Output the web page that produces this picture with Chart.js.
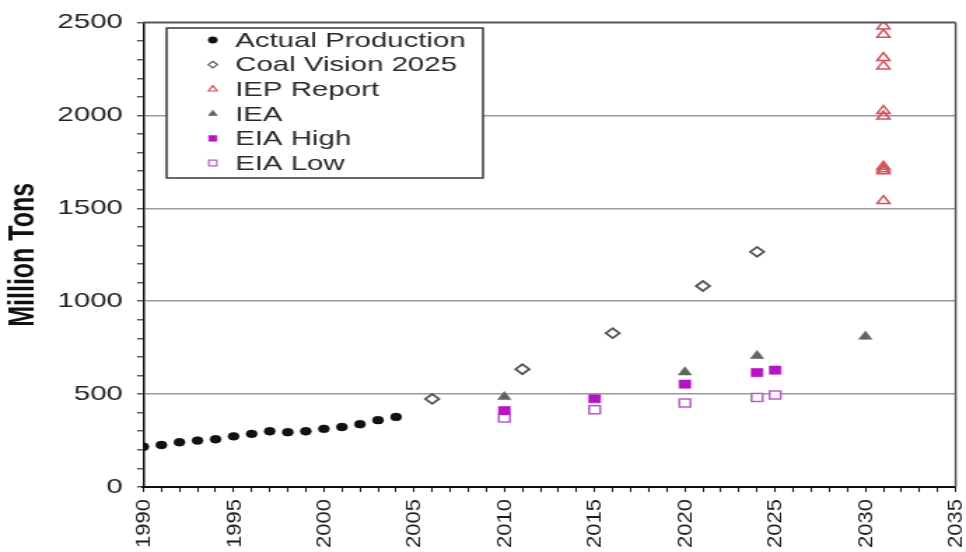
<!DOCTYPE html>
<html>
<head>
<meta charset="utf-8">
<title>Coal production and projections</title>
<style>
  html, body { margin: 0; padding: 0; background: #ffffff; }
  #wrap { width: 966px; height: 552px; overflow: hidden; }
</style>
<script src="https://cdn.jsdelivr.net/npm/chart.js@4.4.1/dist/chart.umd.min.js"></script>
</head>
<body>
<!-- the drawing surface is 690 px wide and displayed at 966 px: a wide, flattened look -->
<div id="wrap"><canvas id="c" width="690" height="552" style="display:block;width:966px;height:552px;"></canvas></div>
<script>
// ---- data (million tons) ----
const actualYears = [1990, 1991, 1992, 1993, 1994, 1995, 1996, 1997, 1998, 1999, 2000, 2001, 2002, 2003, 2004];
const actualProduction = [217, 226, 241, 250, 257, 273, 286, 300, 295, 300, 313, 323, 338, 360, 377];

const coalVisionYears = [2006, 2011, 2016, 2021, 2024];
const coalVision = [474, 634, 828, 1082, 1266];

const iepYear = 2031;
const iepReport = [2480, 2435, 2310, 2265, 2025, 1995, 1725, 1712, 1700, 1540];

const ieaYears = [2010, 2020, 2024, 2030];
const iea = [485, 618, 706, 810];

const eiaYears = [2010, 2015, 2020, 2024, 2025];
const eiaHigh = [411, 475, 554, 616, 629];
const eiaLow = [371, 416, 452, 482, 495];

// ---- axis labels ----
const xTickLabels = [1990, 1995, 2000, 2005, 2010, 2015, 2020, 2025, 2030, 2035];
const yTickLabels = [0, 500, 1000, 1500, 2000, 2500];
const yTitle = 'Million Tons';

const FONT = '"Liberation Sans", Arial, Helvetica, sans-serif';
Chart.defaults.font.family = FONT;

const pairs = (xs, ys) => ys.map((y, i) => ({ x: Array.isArray(xs) ? xs[i] : xs, y }));

const datasets = [
  { label: 'Actual Production', data: pairs(actualYears, actualProduction),
    pointStyle: 'circle', pointRadius: 3.9, pointBackgroundColor: '#111111',
    pointBorderColor: '#111111', pointBorderWidth: 0.6, legendRadius: 3.2 },
  { label: 'Coal Vision 2025', data: pairs(coalVisionYears, coalVision),
    pointStyle: 'rectRot', pointRadius: 4.9, pointBackgroundColor: '#ffffff',
    pointBorderColor: '#555555', pointBorderWidth: 1.8, legendRadius: 3.3 },
  { label: 'IEP Report', data: pairs(iepYear, iepReport),
    pointStyle: 'triangle', pointRadius: 5.3, pointBackgroundColor: 'rgba(255,255,255,0)',
    pointBorderColor: '#d5505a', pointBorderWidth: 1.5, legendRadius: 3.6 },
  { label: 'IEA', data: pairs(ieaYears, iea),
    pointStyle: 'triangle', pointRadius: 5.4, pointBackgroundColor: '#5d665f',
    pointBorderColor: '#5d665f', pointBorderWidth: 0.6, legendRadius: 3.6 },
  { label: 'EIA High', data: pairs(eiaYears, eiaHigh),
    pointStyle: 'rect', pointRadius: 5.8, pointBackgroundColor: '#b414c4',
    pointBorderColor: '#b414c4', pointBorderWidth: 0.6, legendRadius: 4 },
  { label: 'EIA Low', data: pairs(eiaYears, eiaLow),
    pointStyle: 'rect', pointRadius: 5.6, pointBackgroundColor: '#ffffff',
    pointBorderColor: '#b65ec6', pointBorderWidth: 1.5, legendRadius: 4 }
];
datasets.forEach(d => { d.showLine = false; d.pointHoverRadius = d.pointRadius; });

// grey frame along the top and right of the plot area
const framePlugin = {
  id: 'plotFrame',
  afterDatasetsDraw(chart) {
    const { ctx, chartArea: a } = chart;
    ctx.save();
    ctx.strokeStyle = '#555555';
    ctx.lineWidth = 2;
    ctx.beginPath();
    ctx.moveTo(a.left, a.top);
    ctx.lineTo(a.right, a.top);
    ctx.stroke();
    ctx.lineWidth = 1.5;
    ctx.beginPath();
    ctx.moveTo(a.right, a.top);
    ctx.lineTo(a.right, a.bottom);
    ctx.stroke();
    ctx.restore();
  }
};

// upright year labels under the x axis, narrow and reading upward
const yearLabelPlugin = {
  id: 'yearLabels',
  afterDraw(chart) {
    const { ctx } = chart;
    const xs = chart.scales.x;
    ctx.save();
    ctx.fillStyle = '#1e1e1e';
    ctx.font = '22px ' + FONT;
    ctx.textAlign = 'right';
    ctx.textBaseline = 'middle';
    xTickLabels.forEach(v => {
      const px = xs.getPixelForValue(v);
      ctx.save();
      ctx.translate(px, 499);
      ctx.rotate(-Math.PI / 2);
      ctx.scale(1, 0.66);
      ctx.fillText(String(v), 0, 1);
      ctx.restore();
    });
    ctx.restore();
  }
};

// boxed legend in the upper left of the plot
const boxLegendPlugin = {
  id: 'boxLegend',
  afterDraw(chart) {
    const { ctx } = chart;
    const box = { x: 119, y: 28, w: 226, h: 150 };
    ctx.save();
    ctx.fillStyle = '#ffffff';
    ctx.fillRect(box.x, box.y, box.w, box.h);
    ctx.strokeStyle = '#444444';
    ctx.lineWidth = 1.6;
    ctx.strokeRect(box.x, box.y, box.w, box.h);
    chart.data.datasets.forEach((ds, i) => {
      const cy = 40 + i * 24.6;
      ctx.fillStyle = ds.pointBackgroundColor;
      ctx.strokeStyle = ds.pointBorderColor;
      ctx.lineWidth = Math.min(ds.pointBorderWidth, 1.2);
      Chart.helpers.drawPoint(ctx, {
        pointStyle: ds.pointStyle, radius: ds.legendRadius,
        rotation: 0, borderWidth: ds.pointBorderWidth
      }, 152, cy);
      ctx.fillStyle = '#2a2a2a';
      ctx.font = '21px ' + FONT;
      ctx.textAlign = 'left';
      ctx.textBaseline = 'alphabetic';
      ctx.fillText(ds.label, 168, 46.8 + i * 24.65);
    });
    ctx.restore();
  }
};

const yMinor = [];
for (let v = 0; v <= 2500; v += 100) yMinor.push(v);
const xMinor = [];
for (let v = 1990; v <= 2035; v += 1) xMinor.push(v);

new Chart(document.getElementById('c'), {
  type: 'scatter',
  data: { datasets },
  plugins: [framePlugin, yearLabelPlugin, boxLegendPlugin],
  options: {
    responsive: false,
    animation: false,
    devicePixelRatio: 1,
    layout: { padding: { top: 21, right: 7.4, left: 0, bottom: 0 } },
    plugins: { legend: { display: false }, tooltip: { enabled: false } },
    scales: {
      x: {
        type: 'linear', min: 1990, max: 2035,
        afterBuildTicks: s => { s.ticks = xMinor.map(v => ({ value: v })); },
        afterFit: s => { s.height = 65; },
        ticks: { display: false, autoSkip: false },
        grid: { drawOnChartArea: false, drawTicks: true, tickLength: 5,
                tickColor: '#222222', tickWidth: 1.1 },
        border: { color: '#111111', width: 2 }
      },
      y: {
        type: 'linear', min: 0, max: 2500,
        afterBuildTicks: s => { s.ticks = yMinor.map(v => ({ value: v })); },
        afterFit: s => { s.width = 102.4; },
        ticks: {
          autoSkip: false, padding: 10, color: '#222222',
          font: { size: 21, family: FONT },
          callback: v => (yTickLabels.includes(v) ? String(v) : '')
        },
        grid: {
          color: c => (c.tick && c.tick.value % 500 === 0 && c.tick.value > 0 && c.tick.value < 2500)
            ? '#9a9a9a' : 'rgba(0,0,0,0)',
          lineWidth: 1.6, drawTicks: true, tickLength: 4.6,
          tickColor: '#222222', tickWidth: 1.1
        },
        border: { color: '#111111', width: 1.5 },
        title: {
          display: true, text: yTitle, color: '#111111',
          font: { size: 25, weight: 'bold', family: FONT },
          padding: { top: 2, bottom: 0 }
        }
      }
    }
  }
});
</script>
</body>
</html>
